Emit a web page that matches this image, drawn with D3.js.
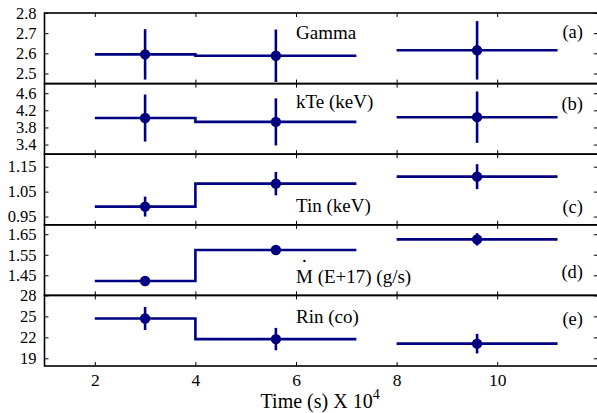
<!DOCTYPE html>
<html><head><meta charset="utf-8">
<script src="https://cdn.jsdelivr.net/npm/d3@7"></script>
<style>body{margin:0;background:#fff}svg{display:block}</style>
</head><body><svg id="c" width="597" height="413"></svg>
<script>
const segStart = [2, 4, 8];
const segEnd = [4, 7.2, 11.2];
const segMid = [3, 5.6, 9.6];

const gammaVal = [2.595, 2.588, 2.615];
const gammaErr = [0.125, 0.13, 0.145];
const kteVal = [4.02, 3.93, 4.04];
const kteErr = [0.55, 0.55, 0.6];
const tinVal = [0.99, 1.082, 1.11];
const tinErr = [0.04, 0.047, 0.05];
const mdotVal = [1.422, 1.573, 1.625];
const mdotErr = [0.008, 0.008, 0.03];
const rinVal = [24.7, 21.75, 21.1];
const rinErr = [1.65, 1.6, 1.4];

const gammaTicks = [2.5, 2.6, 2.7, 2.8];
const kteTicks = [3.4, 3.8, 4.2, 4.6];
const tinTicks = [0.95, 1.05, 1.15];
const mdotTicks = [1.45, 1.55, 1.65];
const rinTicks = [19, 22, 25, 28];
const xTicks = [2, 4, 6, 8, 10, 12];
const xTickLabels = ["2", "4", "6", "8", "10", ""];

const panelNames = ["Gamma", "kTe (keV)", "Tin (keV)", "M (E+17) (g/s)", "Rin (co)"];
const panelTags = ["(a)", "(b)", "(c)", "(d)", "(e)"];

const FONT = "'Liberation Serif', 'Times New Roman', serif";
const FS_TICK = 16.5, FS_LAB = 19, FS_TAG = 18.5, FS_TITLE = 20;

const panels = [
  {vals: gammaVal, errs: gammaErr, ticks: gammaTicks, dom: [2.45, 2.8], fmt: d3.format(".1f"), labY: 39, tagY: 38},
  {vals: kteVal, errs: kteErr, ticks: kteTicks, dom: [3.175, 4.825], fmt: d3.format(".1f"), labY: 108, tagY: 110},
  {vals: tinVal, errs: tinErr, ticks: tinTicks, dom: [0.917, 1.2], fmt: d3.format(".2f"), labY: 212, tagY: 213},
  {vals: mdotVal, errs: mdotErr, ticks: mdotTicks, dom: [1.352, 1.696], fmt: d3.format(".2f"), labY: 283, tagY: 278},
  {vals: rinVal, errs: rinErr, ticks: rinTicks, dom: [17.9, 28], fmt: d3.format("d"), labY: 323, tagY: 325}
];

const svg = d3.select("#c");
const L = 44.5, R = 597.8, T = 13, B = 366;
const ph = (B - T) / panels.length;
const x = d3.scaleLinear().domain([1, 12]).range([L, R]);
const col = "#000080";
const tl = 4;

panels.forEach((p, i) => {
  const top = T + i * ph, bot = top + ph;
  const y = d3.scaleLinear().domain(p.dom).range([bot, top]);
  const g = svg.append("g");
  const ya = g.append("g").attr("transform", `translate(${L},0)`)
    .call(d3.axisLeft(y).tickValues(p.ticks).tickFormat(p.fmt).tickSizeInner(-tl).tickSizeOuter(0).tickPadding(8));
  ya.select(".domain").remove();
  ya.selectAll("text").attr("font-size", FS_TICK).style("font-family", FONT).attr("fill", "#000");
  const yr = g.append("g").attr("transform", `translate(${R},0)`)
    .call(d3.axisRight(y).tickValues(p.ticks).tickFormat("").tickSizeInner(-tl).tickSizeOuter(0));
  yr.select(".domain").remove();
  const xt = g.append("g").attr("transform", `translate(0,${top})`)
    .call(d3.axisTop(x).tickValues(xTicks).tickFormat("").tickSizeInner(-tl).tickSizeOuter(0));
  xt.select(".domain").remove();
  const xb = g.append("g").attr("transform", `translate(0,${bot})`)
    .call(d3.axisBottom(x).tickValues(xTicks).tickFormat((d, k) => i === panels.length - 1 ? xTickLabels[k] : "").tickSizeInner(-tl).tickSizeOuter(0).tickPadding(8));
  xb.select(".domain").remove();
  xb.selectAll("text").attr("font-size", 17.5).style("font-family", FONT).attr("fill", "#000");
  g.append("rect").attr("x", L).attr("y", top).attr("width", R - L).attr("height", ph)
    .attr("fill", "none").attr("stroke", "#000").attr("stroke-width", 1.6);
  const line = d3.line().x(d => x(d[0])).y(d => y(d[1]));
  const pts1 = [[segStart[0], p.vals[0]], [segEnd[0], p.vals[0]], [segStart[1], p.vals[1]], [segEnd[1], p.vals[1]]];
  g.append("path").attr("d", line(pts1)).attr("fill", "none").attr("stroke", col).attr("stroke-width", 2.6);
  const pts2 = [[segStart[2], p.vals[2]], [segEnd[2], p.vals[2]]];
  g.append("path").attr("d", line(pts2)).attr("fill", "none").attr("stroke", col).attr("stroke-width", 2.6);
  segMid.forEach((m, k) => {
    g.append("line").attr("x1", x(m)).attr("x2", x(m))
      .attr("y1", y(p.vals[k] - p.errs[k])).attr("y2", y(p.vals[k] + p.errs[k]))
      .attr("stroke", col).attr("stroke-width", 2.6);
    g.append("circle").attr("cx", x(m)).attr("cy", y(p.vals[k])).attr("r", 5.2).attr("fill", col);
  });
  g.append("text").attr("x", x(6)).attr("y", p.labY).attr("font-size", FS_LAB).style("font-family", FONT).attr("fill", "#000").text(panelNames[i]);
  g.append("text").attr("x", 583).attr("y", p.tagY).attr("font-size", FS_TAG).style("font-family", FONT).attr("fill", "#000").attr("text-anchor", "end").text(panelTags[i]);
});
svg.append("text").attr("x", x(6) + 6).attr("y", 262).attr("font-size", FS_LAB).style("font-family", FONT).attr("fill", "#000").text(".");
const xt = svg.append("text").attr("x", (L + R) / 2 - 1).attr("y", 408).attr("font-size", FS_TITLE).style("font-family", FONT).attr("fill", "#000").attr("text-anchor", "middle");
xt.append("tspan").text("Time (s) X 10");
xt.append("tspan").attr("dy", -9).attr("font-size", 14).text("4");
</script></body></html>
